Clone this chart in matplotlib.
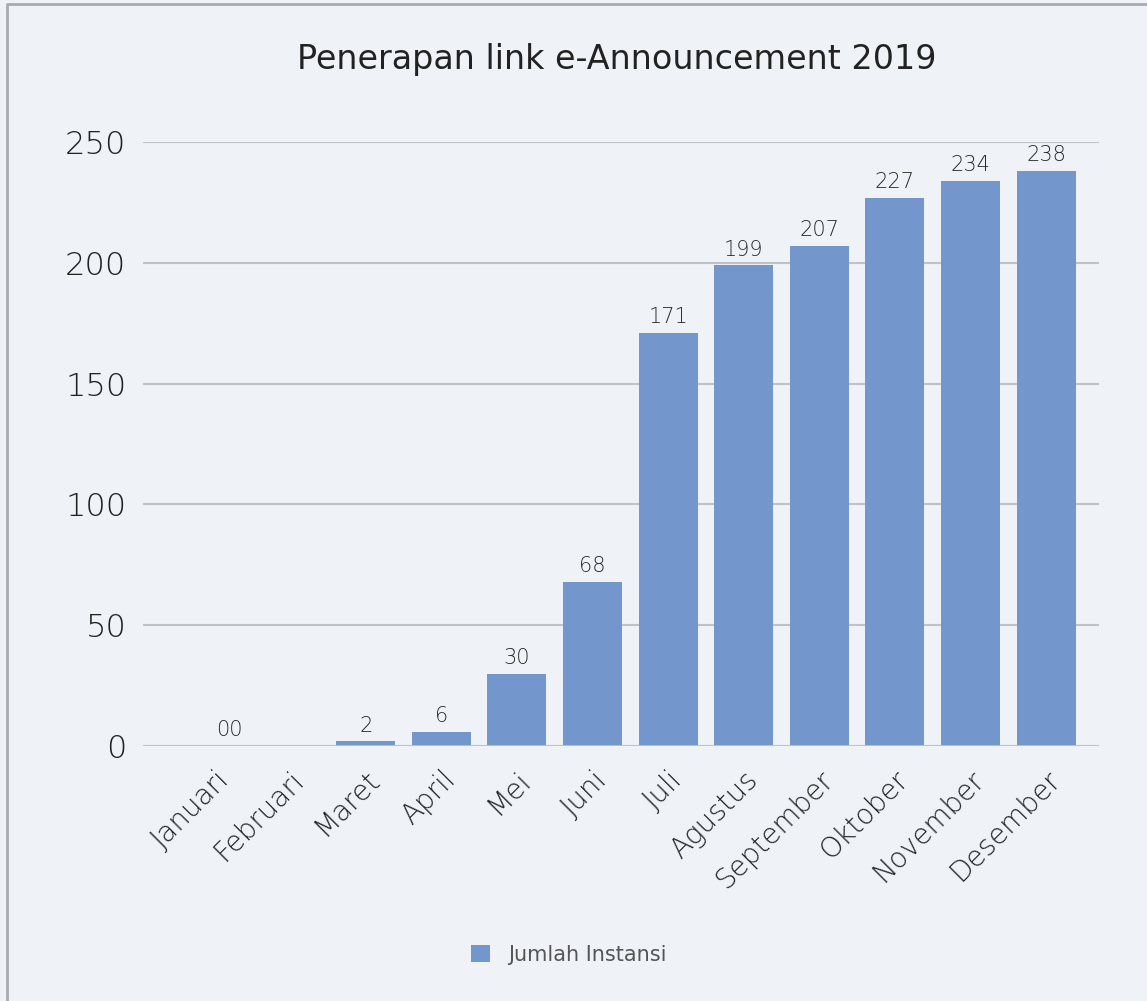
import matplotlib
matplotlib.use("Agg")
import matplotlib.pyplot as plt
from matplotlib.lines import Line2D

plt.rcParams['font.family'] = ['DejaVu Sans']

months = ["Januari", "Februari", "Maret", "April", "Mei", "Juni", "Juli",
          "Agustus", "September", "Oktober", "November", "Desember"]
jumlah = [0, 0, 2, 6, 30, 68, 171, 199, 207, 227, 234, 238]
bar_labels = ["00", "", "2", "6", "30", "68", "171", "199", "207", "227", "234", "238"]
yticks = [0, 50, 100, 150, 200, 250]

bg = "#eff3f7"
bar_color = "#7396cc"
text_color = "#222222"

fig = plt.figure(figsize=(11.47, 10.01), dpi=100, facecolor=bg)
ax = fig.add_axes([143/1147, 255/1001, 956/1147, 604/1001], facecolor=bg)

x = list(range(len(months)))
bars = ax.bar(x, jumlah, width=0.78, color=bar_color, label="Jumlah Instansi", zorder=2)

# value labels
for i, (v, lab) in enumerate(zip(jumlah, bar_labels)):
    if not lab:
        continue
    dx = 0.2 if i == 0 else 0
    ax.annotate(lab, (i + dx, v), xytext=(0, 4), textcoords="offset points",
                ha="center", va="bottom", fontsize=15, color="#2a2a2a",
                fontweight="light")

ax.set_xlim(-0.946, 11.70)
ax.set_ylim(0, 250)
ax.set_yticks(yticks)
ax.set_xticks(x)
ax.set_xticklabels(months, rotation=45, ha="right", rotation_mode="anchor",
                   fontsize=20, color=text_color, fontweight="light")
for t in ax.get_yticklabels():
    t.set_fontweight("light")
ax.tick_params(axis="y", length=0, pad=12, labelsize=23, labelcolor=text_color)
ax.tick_params(axis="x", length=0, pad=14)
ax.grid(axis="y", color="#bfc3c8", linewidth=1.5, zorder=1)
for s in ax.spines.values():
    s.set_visible(False)
ax.axhline(0, color="#bfc3c8", linewidth=2, zorder=3)

fig.text(617/1147, 1 - 60/1001, "Penerapan link e-Announcement 2019",
         ha="center", va="center", fontsize=24, color="#222222")

leg = fig.legend(handles=[bars], labels=["Jumlah Instansi"], loc="center",
                 bbox_to_anchor=(569/1147, 1 - 955/1001), frameon=False,
                 fontsize=15, handlelength=0.9, handleheight=0.9, handletextpad=0.9)
for t in leg.get_texts():
    t.set_color("#555555")

# outer border
fig.add_artist(Line2D([7/1147, 7/1147, 1.0], [0.0, 1 - 4/1001, 1 - 4/1001],
                      transform=fig.transFigure, color="#a8abaf", linewidth=2))

fig.savefig("out.png", dpi=100, facecolor=bg)
